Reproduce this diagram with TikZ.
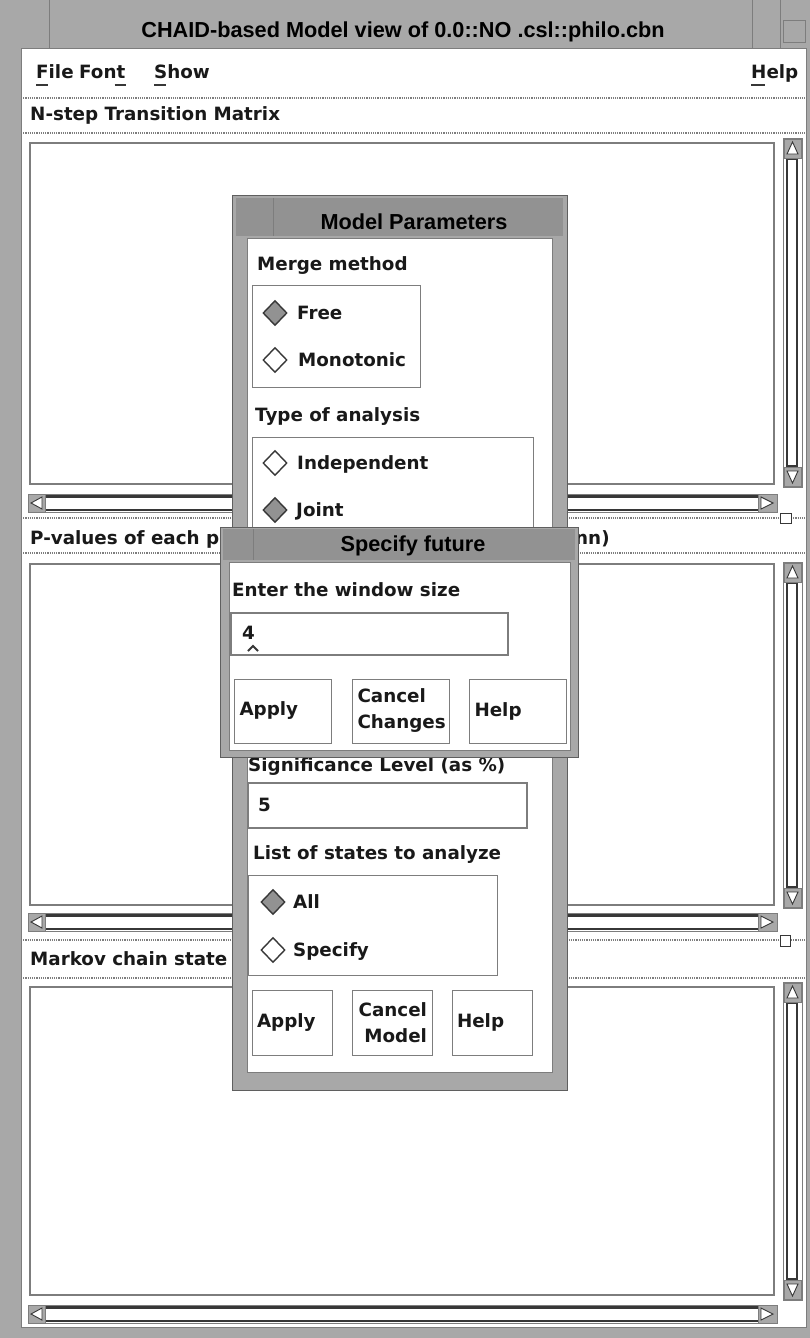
\documentclass[tikz,border=0pt]{standalone}
\usepackage{fontspec}
\setmainfont{DejaVu Sans}
\newfontfamily\titlefont{Liberation Sans}
\usetikzlibrary{positioning,shapes.geometric}
\definecolor{FrameGray}{RGB}{168,168,168}
\definecolor{TitleGray}{RGB}{146,146,146}
\definecolor{EdgeGray}{RGB}{125,125,125}
\definecolor{DarkEdge}{RGB}{55,55,55}
\tikzset{
  wintitle/.style={font=\titlefont\fontsize{21.7}{24}\selectfont\bfseries,
    inner sep=0pt, text=black},
  lbl/.style={font=\fontsize{18.3}{22}\selectfont\bfseries, inner sep=0pt,
    anchor=base west, text=black!90},
  pane/.style={draw=EdgeGray, line width=1.2pt, fill=white},
  sepline/.style={draw=EdgeGray, line width=1.2pt, densely dotted},
  groupbox/.style={draw=EdgeGray, line width=1pt},
  field/.style={draw=EdgeGray, line width=1.2pt, fill=white},
  button/.style={draw=EdgeGray, line width=1pt, fill=white, align=left,
    font=\fontsize{18.3}{26}\selectfont\bfseries, text=black!90,
    inner xsep=5pt, inner ysep=0pt},
  radioon/.style={diamond, draw=DarkEdge, line width=1.4pt, fill=TitleGray,
    minimum width=24pt, minimum height=25pt, inner sep=0pt},
  radiooff/.style={diamond, draw=DarkEdge, line width=1.4pt, fill=white,
    minimum width=24pt, minimum height=25pt, inner sep=0pt},
  trough/.style={draw=DarkEdge, line width=1.6pt},
  arrowbox/.style={draw=EdgeGray, line width=0.8pt, fill=FrameGray},
  arrowtip/.style={draw=DarkEdge, line width=0.9pt, fill=white},
  dialog/.style={draw=DarkEdge!80, line width=1pt, fill=FrameGray},
  sash/.style={draw=DarkEdge, line width=1pt, fill=white}
}

\begin{document}
\begin{tikzpicture}[x=1pt, y=-1pt]
  \useasboundingbox (0,0) rectangle (810,1338);
  % main window frame
  \fill[FrameGray] (0,0) rectangle (810,1338);
  \draw[EdgeGray, line width=0.8pt] (49,0) -- (49,49) (752,0) -- (752,49)
    (780,0) -- (780,49);
  \draw[EdgeGray, line width=0.8pt] (783,20) rectangle (805,42);
  \node[wintitle] (wintitle) at (403,32)
    {CHAID-based Model view of 0.0::NO .csl::philo.cbn};
  \fill[white] (21,49) rectangle (806,1327);
  \draw[EdgeGray, line width=1pt] (21,49) rectangle (806,1327);

  % menu bar
  \node[lbl] (menufile) at (36,78) {File};
  \node[lbl] (menufont) at (79,78) {Font};
  \node[lbl] (menushow) at (154,78) {Show};
  \node[lbl] (menuhelp) at (751,78) {Help};
  \draw[DarkEdge, line width=2.5pt] ([yshift=-7pt]menufile.base west) -- ++(12,0);
  \draw[DarkEdge, line width=2.5pt] ([xshift=-11pt,yshift=-7pt]menufont.base east) -- ++(11,0);
  \draw[DarkEdge, line width=2.5pt] ([yshift=-7pt]menushow.base west) -- ++(12,0);
  \draw[DarkEdge, line width=2.5pt] ([yshift=-7pt]menuhelp.base west) -- ++(14,0);
  \draw[sepline] (21,98) -- (806,98);

  % pane headers and text areas
  \node[lbl] (nstep) at (30,120) {N-step Transition Matrix};
  \draw[sepline] (21,133) -- (806,133);
  \draw[pane] (30,143) rectangle (774,484);
  \draw[sepline] (21,518) -- (806,518);
  \draw[sash] (780,513) rectangle (791,523);

  \node[lbl] (pvalues) at (30,544) {P-values of each p};
  \node[lbl] (pvaluesend) at (575,544) {nn)};
  \draw[sepline] (21,553) -- (806,553);
  \draw[pane] (30,564) rectangle (774,905);
  \draw[sepline] (21,940) -- (806,940);
  \draw[sash] (780,935) rectangle (790,946);

  \node[lbl] (markov) at (30,965) {Markov chain state};
  \draw[sepline] (21,978) -- (806,978);
  \draw[pane] (30,987) rectangle (774,1295);

  % scroll bars
  \foreach \ytop/\ybot/\hy in {138/487/494, 562/908/913, 982/1300/1305} {
    \draw[EdgeGray, line width=1pt] (783,\ytop) rectangle (802,\ybot);
    \draw[trough] (787,\ytop+21) rectangle (797,\ybot-21);
    \draw[arrowbox] (784,\ytop+1) rectangle (801,\ytop+20);
    \draw[arrowtip] (787,\ytop+16) -- (792.5,\ytop+4) -- (798,\ytop+16) -- cycle;
    \draw[arrowbox] (784,\ybot-20) rectangle (801,\ybot-1);
    \draw[arrowtip] (787,\ybot-16) -- (792.5,\ybot-4) -- (798,\ybot-16) -- cycle;
    \draw[EdgeGray, line width=1pt] (28,\hy) rectangle (777,\hy+18);
    \draw[DarkEdge, line width=3pt] (28,\hy+2) -- (777,\hy+2);
    \draw[DarkEdge, line width=2pt] (28,\hy+16) -- (777,\hy+16);
    \draw[arrowbox] (28,\hy) rectangle (45,\hy+18);
    \draw[arrowtip] (42,\hy+3) -- (31,\hy+9) -- (42,\hy+15) -- cycle;
    \draw[arrowbox] (758,\hy) rectangle (777,\hy+18);
    \draw[arrowtip] (761,\hy+3) -- (773,\hy+9) -- (761,\hy+15) -- cycle;
  }

  % Model Parameters dialog
  \draw[dialog] (232,195) rectangle (567,1090);
  \fill[TitleGray] (236,198) rectangle (563,236);
  \draw[EdgeGray, line width=0.8pt] (273,198) -- (273,236);
  \node[wintitle] (modeltitle) at (414,222) {Model Parameters};
  \draw[EdgeGray, fill=white, line width=1pt] (247,238) rectangle (552,1072);

  \node[lbl] (merge) at (257,270.5) {Merge method};
  \draw[groupbox] (252,285) rectangle (420,387);
  \node[radioon] (freeradio) at (275,313) {};
  \node[lbl] (free) at (297,319.5) {Free};
  \node[radiooff] (monoradio) at (275,360) {};
  \node[lbl] (mono) at (298,366.5) {Monotonic};

  \node[lbl] (analysis) at (255,421.5) {Type of analysis};
  \draw[groupbox] (252,437) rectangle (533,548);
  \node[radiooff] (indepradio) at (275,463) {};
  \node[lbl] (indep) at (297,469.5) {Independent};
  \node[radioon] (jointradio) at (275,510) {};
  \node[lbl] (joint) at (296,516.5) {Joint};

  \node[lbl] (siglevel) at (248,771) {Significance Level (as \%)};
  \draw[field] (248,783) rectangle (527,828);
  \node[lbl] (sigvalue) at (258,811.5) {5};

  \node[lbl] (states) at (253,859.5) {List of states to analyze};
  \draw[groupbox] (248,875) rectangle (497,975);
  \node[radioon] (allradio) at (273,902) {};
  \node[lbl] (all) at (293,908.5) {All};
  \node[radiooff] (specradio) at (273,950) {};
  \node[lbl] (spec) at (293,956.5) {Specify};

  \node[button, minimum width=80pt, text width=70pt, minimum height=65pt]
    (modelapply) at (292,1022.5) {Apply};
  \node[button, minimum width=80pt, text width=70pt, minimum height=65pt,
    align=right, right=19pt of modelapply] (modelcancel) {Cancel\\Model};
  \node[button, minimum width=80pt, text width=70pt, minimum height=65pt,
    right=19pt of modelcancel] (modelhelp) {Help};

  % Specify future dialog
  \draw[dialog] (220,527) rectangle (578,757);
  \fill[TitleGray] (223,529) rectangle (575,560);
  \draw[EdgeGray, line width=0.8pt] (253,529) -- (253,560);
  \node[wintitle] (futuretitle) at (413,546) {Specify future};
  \draw[EdgeGray, fill=white, line width=1pt] (229,562) rectangle (570,750);

  \node[lbl] (window) at (232,596.5) {Enter the window size};
  \draw[field] (231,613) rectangle (508,655);
  \node[lbl] (windowvalue) at (242,639.5) {4};
  \draw[DarkEdge, line width=1.8pt] (248,651) -- (253,646) -- (258,651);

  \node[button, minimum width=97pt, text width=86pt, minimum height=64pt]
    (futureapply) at (282.5,711) {Apply};
  \node[button, minimum width=97pt, text width=86pt, minimum height=64pt,
    right=20pt of futureapply] (futurecancel) {Cancel\\Changes};
  \node[button, minimum width=97pt, text width=86pt, minimum height=64pt,
    right=19pt of futurecancel] (futurehelp) {Help};
\end{tikzpicture}
\end{document}
